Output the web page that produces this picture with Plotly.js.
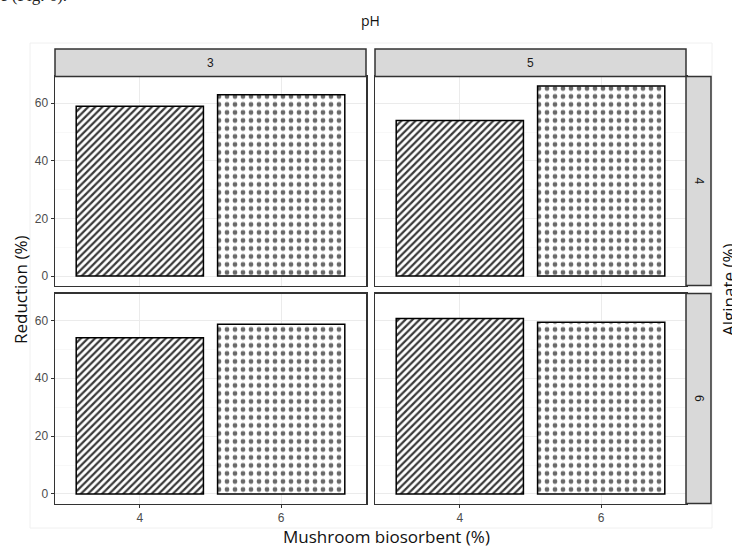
<!DOCTYPE html>
<html>
<head>
<meta charset="utf-8">
<script src="https://cdn.plot.ly/plotly-3.0.1.min.js"></script>
<style>html,body{margin:0;padding:0;background:#fff;}#chart{width:732px;height:547px;}</style>
</head>
<body>
<div id="chart"></div>
<script>
// ---- data ----
const mushroom = ["4", "6"];          // Mushroom biosorbent (%)
const pHLevels = ["3", "5"];          // column facets
const alginateLevels = ["4", "6"];    // row facets
const reduction_pH3_alg4 = [59, 63];
const reduction_pH5_alg4 = [54, 66];
const reduction_pH3_alg6 = [54, 58.7];
const reduction_pH5_alg6 = [60.7, 59.4];
const yTicks = [0, 20, 40, 60];

// ---- layout helpers ----
const W = 732, H = 547;
const px = v => v / W;
const py = v => 1 - v / H;

const colX = [[55, 366], [375, 686]];
const rowY = [[76.5, 285.5], [293.5, 503.5]];

const panels = [
  {vals: reduction_pH3_alg4, col: 0, row: 0},
  {vals: reduction_pH5_alg4, col: 1, row: 0},
  {vals: reduction_pH3_alg6, col: 0, row: 1},
  {vals: reduction_pH5_alg6, col: 1, row: 1}
];

const tickFont = {family: "Liberation Sans, Arial, sans-serif", size: 12, color: "#4d4d4d"};
const traces = [];
const layout = {
  width: W, height: H,
  margin: {l: 0, r: 0, t: 0, b: 0},
  paper_bgcolor: "#fff",
  plot_bgcolor: "#fff",
  showlegend: false,
  bargap: 0.1,
  shapes: [],
  annotations: []
};

panels.forEach((p, i) => {
  const n = i + 1;
  const xa = n === 1 ? "x" : "x" + n;
  const ya = n === 1 ? "y" : "y" + n;
  traces.push({
    type: "bar",
    x: mushroom,
    y: p.vals,
    xaxis: xa, yaxis: ya,
    width: 0.9,
    marker: {
      color: "#ffffff",
      line: {color: "#000", width: 1.5},
      pattern: {
        shape: ["/", "."],
        fgcolor: ["#3a3a3a", "#6a6a6a"],
        bgcolor: ["#ffffff", "#ffffff"],
        size: [5, 8],
        solidity: [0.45, 0.28],
        fillmode: "replace"
      }
    },
    hoverinfo: "skip"
  });
  const xKey = n === 1 ? "xaxis" : "xaxis" + n;
  const yKey = n === 1 ? "yaxis" : "yaxis" + n;
  layout[xKey] = {
    domain: [px(colX[p.col][0]), px(colX[p.col][1])],
    anchor: ya,
    type: "category",
    categoryorder: "array",
    categoryarray: mushroom,
    range: [-0.6, 1.6],
    showgrid: true, gridcolor: "#ebebeb", gridwidth: 1,
    showline: true, linecolor: "#333", linewidth: 1.5, mirror: true,
    ticks: p.row === 1 ? "outside" : "",
    ticklen: 3, tickcolor: "#333", tickwidth: 1,
    showticklabels: p.row === 1,
    tickfont: tickFont,
    zeroline: false, fixedrange: true
  };
  layout[yKey] = {
    domain: [py(rowY[p.row][1]), py(rowY[p.row][0])],
    anchor: xa,
    range: [-3.3, 69.3],
    tickmode: "array",
    tickvals: yTicks,
    ticktext: yTicks.map(String),
    showgrid: true, gridcolor: "#ebebeb", gridwidth: 1,
    minor: {tickmode: "array", tickvals: [10, 30, 50], showgrid: true, gridcolor: "#f4f4f4", gridwidth: 0.6, ticks: ""},
    showline: true, linecolor: "#333", linewidth: 1.5, mirror: true,
    ticks: p.col === 0 ? "outside" : "",
    ticklen: 3, tickcolor: "#333", tickwidth: 1,
    showticklabels: p.col === 0,
    tickfont: tickFont,
    zeroline: false, fixedrange: true
  };
});

// outer faint plot border
layout.shapes.push({type: "rect", xref: "paper", yref: "paper",
  x0: px(30), x1: px(712), y0: py(528), y1: py(43),
  line: {color: "#f0f0f0", width: 1}, fillcolor: "rgba(0,0,0,0)", layer: "below"});

// top strips (pH)
pHLevels.forEach((lab, c) => {
  layout.shapes.push({type: "rect", xref: "paper", yref: "paper",
    x0: px(colX[c][0]), x1: px(colX[c][1]), y0: py(76.5), y1: py(49),
    line: {color: "#333", width: 1.5}, fillcolor: "#d9d9d9"});
  layout.annotations.push({xref: "paper", yref: "paper",
    x: px((colX[c][0] + colX[c][1]) / 2), y: py(62.5),
    text: lab, showarrow: false, xanchor: "center", yanchor: "middle",
    font: {family: "Liberation Sans, Arial, sans-serif", size: 12, color: "#1a1a1a"}});
});

// right strips (Alginate)
alginateLevels.forEach((lab, r) => {
  layout.shapes.push({type: "rect", xref: "paper", yref: "paper",
    x0: px(686), x1: px(711), y0: py(rowY[r][1]), y1: py(rowY[r][0]),
    line: {color: "#333", width: 1.5}, fillcolor: "#d9d9d9"});
  layout.annotations.push({xref: "paper", yref: "paper",
    x: px(698.5), y: py((rowY[r][0] + rowY[r][1]) / 2),
    text: lab, showarrow: false, textangle: 90, xanchor: "center", yanchor: "middle",
    font: {family: "Liberation Sans, Arial, sans-serif", size: 12, color: "#1a1a1a"}});
});

// titles
const titleFont = {family: "Open Sans, Liberation Sans, sans-serif", size: 17, color: "#111"};
layout.annotations.push({xref: "paper", yref: "paper", x: px(370.5), y: py(20),
  text: "pH", showarrow: false, xanchor: "center", yanchor: "middle",
  font: {family: "Open Sans, Liberation Sans, sans-serif", size: 14, color: "#111"}});
layout.annotations.push({xref: "paper", yref: "paper", x: px(386), y: py(536),
  text: "Mushroom biosorbent (%)", showarrow: false, xanchor: "center", yanchor: "middle",
  font: titleFont});
layout.annotations.push({xref: "paper", yref: "paper", x: px(20), y: py(290),
  text: "Reduction (%)", showarrow: false, textangle: -90, xanchor: "center", yanchor: "middle",
  font: titleFont});
layout.annotations.push({xref: "paper", yref: "paper", x: px(728), y: py(290),
  text: "Alginate (%)", showarrow: false, textangle: -90, xanchor: "center", yanchor: "middle",
  font: titleFont});
// cut-off caption fragment at top-left (cropped in the reference too)
layout.annotations.push({xref: "paper", yref: "paper", x: px(-2), y: py(-5),
  text: "e (Fig. 6).", showarrow: false, xanchor: "left", yanchor: "middle",
  font: {family: "Liberation Serif, serif", size: 17, color: "#222"}});

Plotly.newPlot("chart", traces, layout, {staticPlot: true, displayModeBar: false});
</script>
</body>
</html>
